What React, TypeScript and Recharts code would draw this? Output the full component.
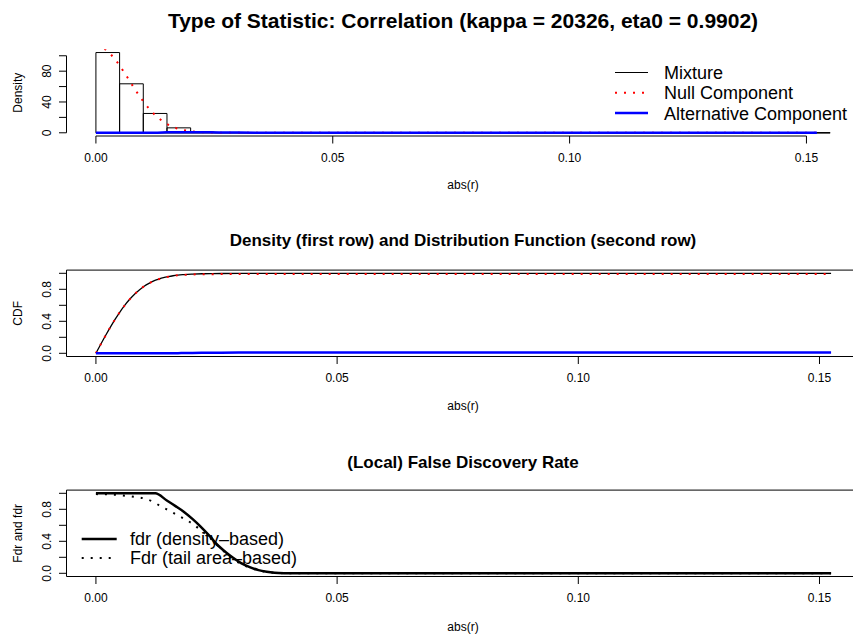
import React from "react";
import { ComposedChart, Line, XAxis, YAxis, ReferenceArea, ReferenceLine } from "recharts";

// ---------- data ----------
const histBreaks = [
  0, 0.005, 0.01, 0.015, 0.02, 0.025, 0.03, 0.035, 0.04, 0.045, 0.05, 0.055, 0.06, 0.065, 0.07, 0.075,
  0.08, 0.085, 0.09, 0.095, 0.1, 0.105, 0.11, 0.115, 0.12, 0.125, 0.13, 0.135, 0.14, 0.145, 0.15, 0.155,
];
const histDensity = [
  104.2, 63.6, 25.1, 6.4, 0.9, 0.2, 0.06, 0.02, 0.01, 0, 0, 0, 0, 0, 0, 0, 0, 0, 0, 0, 0, 0, 0, 0, 0, 0, 0,
  0, 0, 0, 0.01,
];

const densX = [
  0, 0.001, 0.002, 0.003, 0.004, 0.005, 0.006, 0.007, 0.008, 0.009, 0.01, 0.011, 0.012, 0.013, 0.014, 0.015,
  0.016, 0.017, 0.018, 0.019, 0.02, 0.022, 0.024, 0.026, 0.028, 0.03, 0.035, 0.04, 0.05, 0.07, 0.1, 0.13, 0.1522,
];
const nullDensity = [
  112.7, 111.6, 108.2, 102.8, 95.8, 87.4, 78.1, 68.5, 58.8, 49.4, 40.7, 32.9, 26.0, 20.2, 15.3, 11.4, 8.3,
  5.95, 4.17, 2.86, 1.93, 0.82, 0.32, 0.12, 0.04, 0.01, 0, 0, 0, 0, 0, 0, 0,
];
const altDensity = [
  0, 0, 0, 0, 0, 0, 0, 0, 0, 0, 0, 0, 0, 0.15, 0.4, 0.55, 0.65, 0.7, 0.72, 0.72, 0.7, 0.65, 0.55, 0.45, 0.35,
  0.25, 0.1, 0.05, 0.02, 0.008, 0.004, 0.003, 0.002,
];

const cdfX = [
  0, 0.001, 0.002, 0.003, 0.004, 0.005, 0.006, 0.007, 0.008, 0.009, 0.01, 0.011, 0.012, 0.013, 0.014, 0.015,
  0.016, 0.017, 0.018, 0.019, 0.02, 0.022, 0.024, 0.026, 0.03, 0.035, 0.04, 0.06, 0.1, 0.1524,
];
const mixtureCdf = [
  0, 0.1124, 0.2223, 0.3278, 0.4276, 0.519, 0.602, 0.6751, 0.7389, 0.7927, 0.838, 0.8737, 0.9042, 0.9262,
  0.9451, 0.9586, 0.9693, 0.9771, 0.9828, 0.9872, 0.99, 0.9941, 0.9962, 0.9975, 0.9989, 0.9995, 0.9997,
  0.9999, 1, 1,
];
const nullCdf = [
  0, 0.1124, 0.2223, 0.3278, 0.4276, 0.519, 0.602, 0.6751, 0.7389, 0.7927, 0.838, 0.8737, 0.9042, 0.9261,
  0.9448, 0.9578, 0.9679, 0.9751, 0.9801, 0.9838, 0.9859, 0.9886, 0.9895, 0.9899, 0.9902, 0.9902, 0.9902,
  0.9902, 0.9902, 0.9902,
];
const altCdf = [
  0, 0, 0, 0, 0, 0, 0, 0, 0, 0, 0, 0, 0, 0.0001, 0.0003, 0.0008, 0.0014, 0.002, 0.0027, 0.0034, 0.0041,
  0.0055, 0.0067, 0.0076, 0.0087, 0.0093, 0.0095, 0.0097, 0.0098, 0.0098,
];

const fdrX = [
  0, 0.005, 0.01, 0.0123, 0.0147, 0.0165, 0.0182, 0.02, 0.0216, 0.0235, 0.0251, 0.0268, 0.0285, 0.03, 0.032,
  0.0337, 0.0354, 0.037, 0.039, 0.042, 0.06, 0.1, 0.1524,
];
const fdrLocal = [
  1, 1, 1, 1, 0.91, 0.84, 0.77, 0.68, 0.59, 0.47, 0.36, 0.27, 0.19, 0.13, 0.075, 0.04, 0.02, 0.008, 0.002, 0,
  0, 0, 0,
];
const FdrX = [
  0, 0.003, 0.006, 0.008, 0.01, 0.012, 0.0135, 0.015, 0.0168, 0.0185, 0.02, 0.0216, 0.0235, 0.025, 0.0268,
  0.0285, 0.0306, 0.0323, 0.034, 0.0361, 0.0382, 0.041, 0.06, 0.1, 0.1524,
];
const FdrTail = [
  0.99, 0.985, 0.97, 0.955, 0.935, 0.89, 0.835, 0.79, 0.73, 0.675, 0.62, 0.545, 0.45, 0.36, 0.26, 0.175,
  0.104, 0.0625, 0.033, 0.0125, 0.003, 0, 0, 0, 0,
];

const xTicks = [0, 0.05, 0.1, 0.15];
const xTickLabels = ["0.00", "0.05", "0.10", "0.15"];
const densTicks = [0, 20, 40, 60, 80, 100];
const densTickLabels = ["0", "", "40", "", "80", ""];
const probTicks = [0, 0.2, 0.4, 0.6, 0.8, 1];
const probTickLabels = ["0.0", "", "0.4", "", "0.8", ""];

const mainTitle = "Type of Statistic: Correlation (kappa = 20326, eta0 = 0.9902)";
const title2 = "Density (first row) and Distribution Function (second row)";
const title3 = "(Local) False Discovery Rate";
const xLabel = "abs(r)";
const legend1 = ["Mixture", "Null Component", "Alternative Component"];
const legend3 = ["fdr (density\u2013based)", "Fdr (tail area\u2013based)"];

// ---------- helpers ----------
const FONT = '"Liberation Sans", Arial, Helvetica, sans-serif';
const rows = (xs: number[], ys: number[]) => xs.map((x, i) => ({ x, y: ys[i] }));

const nullDensRows = rows(densX, nullDensity);
const altDensRows = rows(densX, altDensity);
const mixCdfRows = rows(cdfX, mixtureCdf);
const nullCdfRows = rows(cdfX, nullCdf);
const altCdfRows = rows(cdfX, altCdf);
const fdrRows = rows(fdrX, fdrLocal);
const FdrRows = rows(FdrX, FdrTail);

const makeXTick = (ticks: number[], labels: string[]) => (props: any) => {
  const { x, y, payload } = props;
  const i = ticks.findIndex((t) => Math.abs(t - payload.value) < 1e-9);
  return (
    <text x={x} y={y + 18} textAnchor="middle" fontSize={12} fill="#000" fontFamily={FONT}>
      {i >= 0 ? labels[i] : ""}
    </text>
  );
};
const makeYTick = (ticks: number[], labels: string[]) => (props: any) => {
  const { x, y, payload } = props;
  const i = ticks.findIndex((t) => Math.abs(t - payload.value) < 1e-9);
  const bx = x - 8;
  return (
    <text
      x={bx}
      y={y}
      textAnchor="middle"
      fontSize={12}
      fill="#000"
      fontFamily={FONT}
      transform={`rotate(-90, ${bx}, ${y})`}
    >
      {i >= 0 ? labels[i] : ""}
    </text>
  );
};

const X1 = [-0.00621, 0.16141];
const Y1 = [-4.17, 108.4];
const X2 = [-0.0061, 0.1585];
const Y2 = [-0.04, 1.04];

const RED = "#FF0000";
const BLUE = "#0000FF";

export default function App() {
  return (
    <div
      style={{
        position: "absolute",
        left: 0,
        top: 0,
        width: 853,
        height: 636,
        overflow: "hidden",
        background: "#fff",
        fontFamily: FONT,
      }}
    >
      {/* Panel 1: histogram + densities */}
      <div style={{ position: "absolute", left: 0, top: 0 }}>
        <ComposedChart width={880} height={220} margin={{ top: 49.3, right: 19.5, bottom: 54, left: 6.5 }}>
          <XAxis
            type="number"
            dataKey="x"
            domain={X1}
            allowDataOverflow
            ticks={xTicks}
            tick={makeXTick(xTicks, xTickLabels)}
            tickSize={7.5}
            tickMargin={0}
            axisLine={false}
            stroke="#000"
            height={30}
            interval={0}
          />
          <YAxis
            type="number"
            domain={Y1}
            allowDataOverflow
            ticks={densTicks}
            tick={makeYTick(densTicks, densTickLabels)}
            tickSize={7.5}
            tickMargin={0}
            axisLine={false}
            stroke="#000"
            width={60}
            interval={0}
          />
          <ReferenceLine
            segment={[{ x: X1[0], y: 0 }, { x: X1[0], y: 100 }]}
            stroke="#000"
            strokeWidth={1}
            ifOverflow="visible"
          />
          <ReferenceLine
            segment={[{ x: 0, y: Y1[0] }, { x: 0.15, y: Y1[0] }]}
            stroke="#000"
            strokeWidth={1}
            ifOverflow="visible"
          />
          <ReferenceLine
            segment={[{ x: histBreaks[0], y: 0 }, { x: histBreaks[histBreaks.length - 1], y: 0 }]}
            stroke="#000"
            strokeWidth={1}
            ifOverflow="visible"
          />
          {histDensity.map((d, i) =>
            d > 0 ? (
              <ReferenceArea
                key={i}
                x1={histBreaks[i]}
                x2={histBreaks[i + 1]}
                y1={0}
                y2={d}
                fill="none"
                fillOpacity={0}
                stroke="#000"
                strokeWidth={1}
                ifOverflow="visible"
              />
            ) : null
          )}
          <Line
            data={nullDensRows}
            dataKey="y"
            type="linear"
            stroke={RED}
            strokeWidth={2}
            strokeDasharray="2 7"
            dot={false}
            activeDot={false}
            isAnimationActive={false}
          />
          <Line
            data={altDensRows}
            dataKey="y"
            type="linear"
            stroke={BLUE}
            strokeWidth={2.5}
            dot={false}
            activeDot={false}
            isAnimationActive={false}
          />
        </ComposedChart>
      </div>

      {/* Panel 2: CDFs */}
      <div style={{ position: "absolute", left: 0, top: 220 }}>
        <ComposedChart width={880} height={220} margin={{ top: 50.1, right: 19.5, bottom: 53.5, left: 6.5 }}>
          <XAxis
            type="number"
            dataKey="x"
            domain={X2}
            allowDataOverflow
            ticks={xTicks}
            tick={makeXTick(xTicks, xTickLabels)}
            tickSize={7.5}
            tickMargin={0}
            axisLine={false}
            stroke="#000"
            height={30}
            interval={0}
          />
          <YAxis
            type="number"
            domain={Y2}
            allowDataOverflow
            ticks={probTicks}
            tick={makeYTick(probTicks, probTickLabels)}
            tickSize={7.5}
            tickMargin={0}
            axisLine={false}
            stroke="#000"
            width={60}
            interval={0}
          />
          <ReferenceArea
            x1={X2[0]}
            x2={X2[1]}
            y1={Y2[0]}
            y2={Y2[1]}
            fill="none"
            fillOpacity={0}
            stroke="#000"
            strokeWidth={1}
            ifOverflow="visible"
          />
          <Line
            data={mixCdfRows}
            dataKey="y"
            type="monotone"
            stroke="#000"
            strokeWidth={1.3}
            dot={false}
            activeDot={false}
            isAnimationActive={false}
          />
          <Line
            data={nullCdfRows}
            dataKey="y"
            type="monotone"
            stroke={RED}
            strokeWidth={2}
            strokeDasharray="2 7"
            dot={false}
            activeDot={false}
            isAnimationActive={false}
          />
          <Line
            data={altCdfRows}
            dataKey="y"
            type="monotone"
            stroke={BLUE}
            strokeWidth={2.5}
            dot={false}
            activeDot={false}
            isAnimationActive={false}
          />
        </ComposedChart>
      </div>

      {/* Panel 3: fdr / Fdr */}
      <div style={{ position: "absolute", left: 0, top: 440 }}>
        <ComposedChart width={880} height={196} margin={{ top: 50.1, right: 19.5, bottom: 29.5, left: 6.5 }}>
          <XAxis
            type="number"
            dataKey="x"
            domain={X2}
            allowDataOverflow
            ticks={xTicks}
            tick={makeXTick(xTicks, xTickLabels)}
            tickSize={7.5}
            tickMargin={0}
            axisLine={false}
            stroke="#000"
            height={30}
            interval={0}
          />
          <YAxis
            type="number"
            domain={Y2}
            allowDataOverflow
            ticks={probTicks}
            tick={makeYTick(probTicks, probTickLabels)}
            tickSize={7.5}
            tickMargin={0}
            axisLine={false}
            stroke="#000"
            width={60}
            interval={0}
          />
          <ReferenceArea
            x1={X2[0]}
            x2={X2[1]}
            y1={Y2[0]}
            y2={Y2[1]}
            fill="none"
            fillOpacity={0}
            stroke="#000"
            strokeWidth={1}
            ifOverflow="visible"
          />
          <Line
            data={fdrRows}
            dataKey="y"
            type="monotone"
            stroke="#000"
            strokeWidth={2.5}
            dot={false}
            activeDot={false}
            isAnimationActive={false}
          />
          <Line
            data={FdrRows}
            dataKey="y"
            type="monotone"
            stroke="#000"
            strokeWidth={2}
            strokeDasharray="2 7"
            dot={false}
            activeDot={false}
            isAnimationActive={false}
          />
        </ComposedChart>
      </div>

      {/* Text overlay: titles, axis titles, legends */}
      <svg
        width={853}
        height={636}
        style={{ position: "absolute", left: 0, top: 0, pointerEvents: "none" }}
        fontFamily={FONT}
      >
        <text x={463} y={27.5} textAnchor="middle" fontSize={21} fontWeight="bold" fill="#000">
          {mainTitle}
        </text>
        <text x={463} y={246} textAnchor="middle" fontSize={17} fontWeight="bold" fill="#000">
          {title2}
        </text>
        <text x={463} y={468} textAnchor="middle" fontSize={17} fontWeight="bold" fill="#000">
          {title3}
        </text>
        {[188.5, 409.5, 630.5].map((y, i) => (
          <text key={i} x={463} y={y} textAnchor="middle" fontSize={12} fill="#000">
            {xLabel}
          </text>
        ))}
        {[
          { t: "Density", y: 92.65 },
          { t: "CDF", y: 313.3 },
          { t: "Fdr and fdr", y: 533.3 },
        ].map((d, i) => (
          <text
            key={i}
            x={21.7}
            y={d.y}
            textAnchor="middle"
            fontSize={12}
            fill="#000"
            transform={`rotate(-90, 21.7, ${d.y})`}
          >
            {d.t}
          </text>
        ))}

        {/* legend panel 1 */}
        <line x1={615} x2={648} y1={72.5} y2={72.5} stroke="#000" strokeWidth={1} />
        <line x1={615} x2={648} y1={92.8} y2={92.8} stroke={RED} strokeWidth={2} strokeDasharray="2 7" />
        <line x1={615} x2={648} y1={113.1} y2={113.1} stroke={BLUE} strokeWidth={2.5} />
        {legend1.map((t, i) => (
          <text key={i} x={664} y={72.5 + i * 20.3 + 6.4} fontSize={18} fill="#000">
            {t}
          </text>
        ))}

        {/* legend panel 3 */}
        <line x1={81.7} x2={116.7} y1={539} y2={539} stroke="#000" strokeWidth={2.5} />
        <line x1={81.7} x2={116.7} y1={558} y2={558} stroke="#000" strokeWidth={2} strokeDasharray="2 7" />
        {legend3.map((t, i) => (
          <text key={i} x={130} y={539 + i * 19 + 6.4} fontSize={18} fill="#000">
            {t}
          </text>
        ))}
      </svg>
    </div>
  );
}
